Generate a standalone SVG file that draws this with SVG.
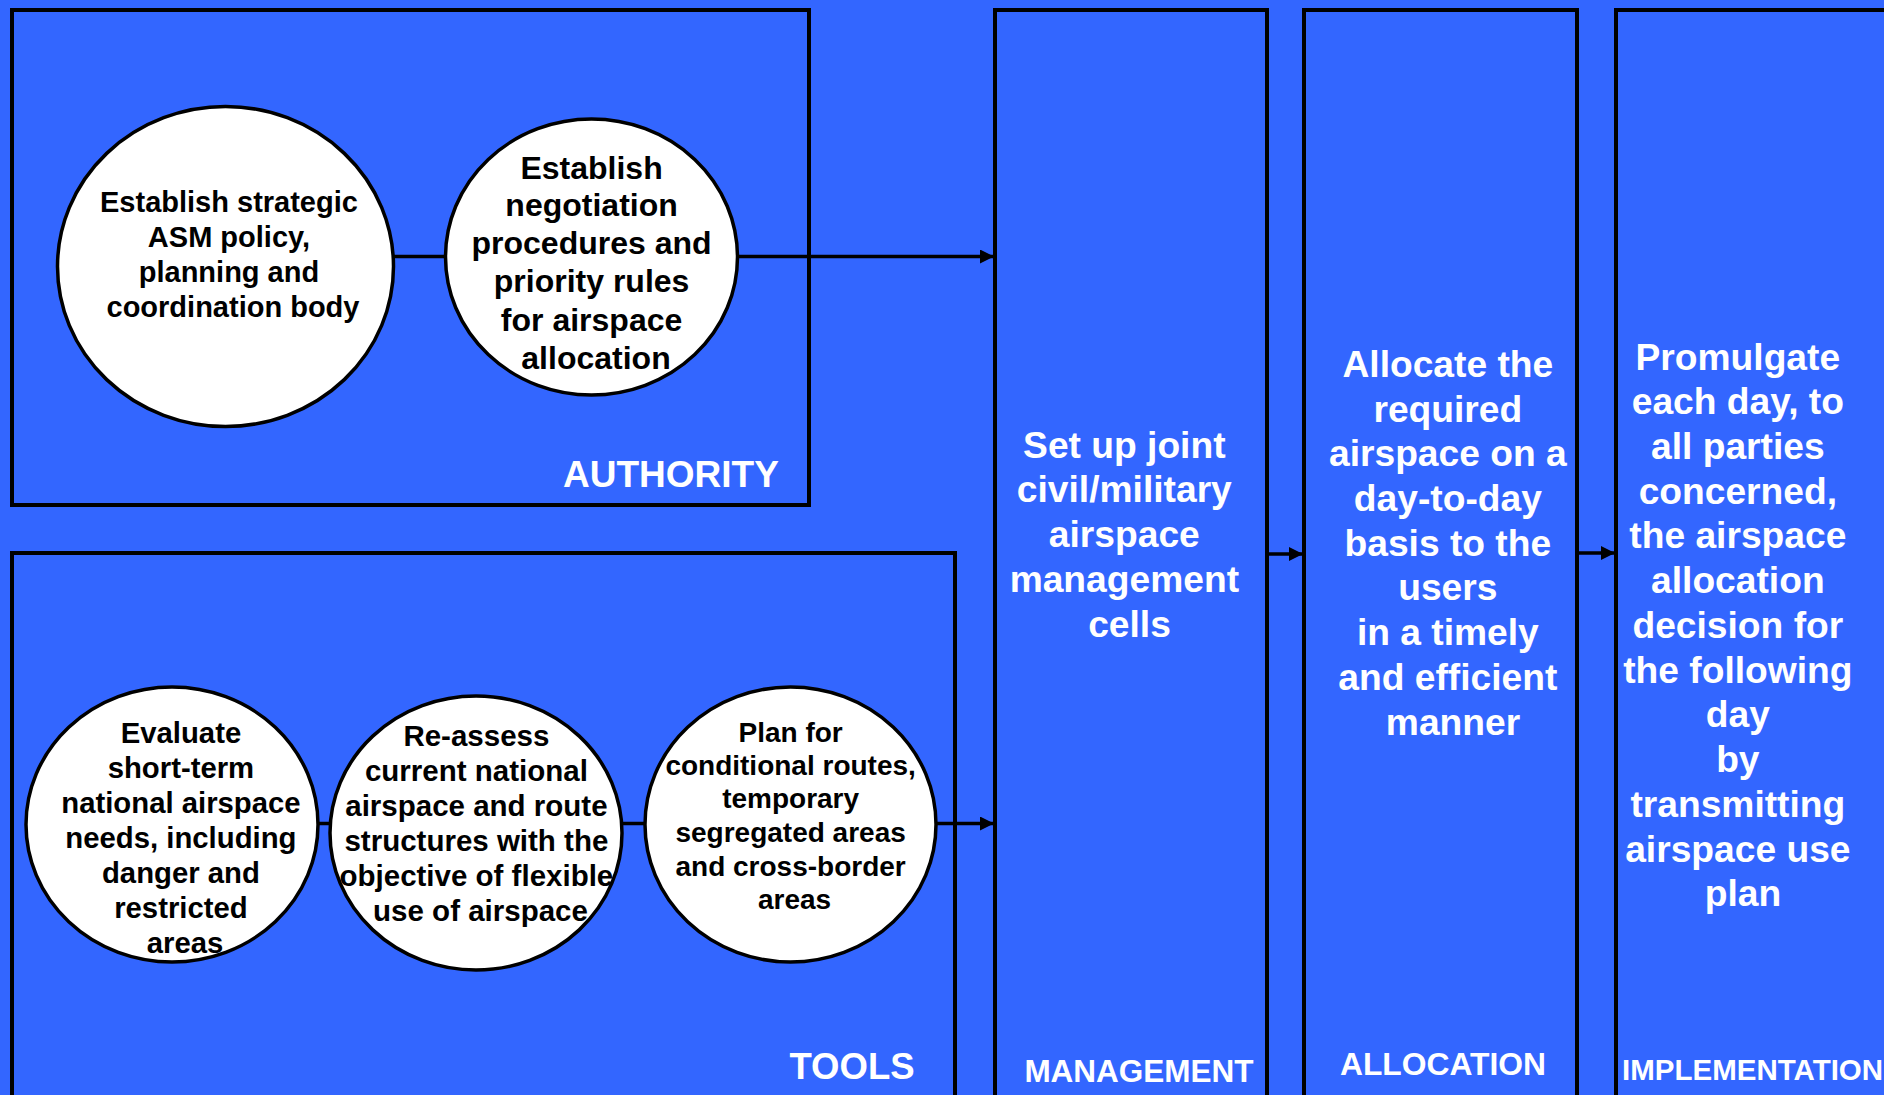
<svg xmlns="http://www.w3.org/2000/svg" width="1884" height="1095" viewBox="0 0 1884 1095">
  <style>
    .panel { fill: none; stroke: #000; stroke-width: 4; }
    .bubble { fill: #fff; stroke: #000; stroke-width: 3.5; }
    .link { stroke: #000; stroke-width: 3.5; fill: none; }
    .dark { font-family: "Liberation Sans", Arial, Helvetica, sans-serif; font-weight: bold; fill: #000; text-anchor: middle; }
    .light { font-family: "Liberation Sans", Arial, Helvetica, sans-serif; font-weight: bold; fill: #fff; text-anchor: middle; }
  </style>
  <defs>
    <marker id="arrow" viewBox="0 0 14 14" refX="14" refY="7" markerWidth="14" markerHeight="14" markerUnits="userSpaceOnUse" orient="auto">
      <path d="M0,0 L14,7 L0,14 z" fill="#000"/>
    </marker>
  </defs>

  <!-- background -->
  <rect x="0" y="0" width="1884" height="1095" fill="#3366FF"/>

  <!-- connectors -->
  <g id="connectors">
    <line class="link" x1="393" y1="256.5" x2="446" y2="256.5"/>
    <line class="link" x1="737" y1="256.5" x2="994" y2="256.5" marker-end="url(#arrow)"/>
    <line class="link" x1="317" y1="823.5" x2="330" y2="823.5"/>
    <line class="link" x1="622" y1="823.5" x2="645" y2="823.5"/>
    <line class="link" x1="936" y1="823.5" x2="994" y2="823.5" marker-end="url(#arrow)"/>
    <line class="link" x1="1267" y1="554" x2="1303" y2="554" marker-end="url(#arrow)"/>
    <line class="link" x1="1577" y1="553" x2="1615" y2="553" marker-end="url(#arrow)"/>
  </g>

  <!-- AUTHORITY panel -->
  <g id="authority">
    <rect class="panel" x="12" y="10" width="797" height="495"/>
    <text class="light" x="671" y="487" font-size="37">AUTHORITY</text>
  </g>

  <!-- TOOLS panel -->
  <g id="tools">
    <rect class="panel" x="12" y="553" width="943" height="560"/>
    <text class="light" x="852" y="1079" font-size="36.5">TOOLS</text>
  </g>

  <!-- MANAGEMENT column -->
  <g id="management">
    <rect class="panel" x="995" y="10" width="272" height="1100"/>
    <text class="light" font-size="37.2">
      <tspan x="1129.5" y="458">Set up joint</tspan>
      <tspan x="1129.5" y="502">civil/military</tspan>
      <tspan x="1129.5" y="547">airspace</tspan>
      <tspan x="1129.5" y="592">management</tspan>
      <tspan x="1129.5" y="637">cells</tspan>
    </text>
    <text class="light" x="1139" y="1082" font-size="31.5">MANAGEMENT</text>
  </g>

  <!-- ALLOCATION column -->
  <g id="allocation">
    <rect class="panel" x="1304" y="10" width="273" height="1100"/>
    <text class="light" font-size="37.2">
      <tspan x="1453" y="377">Allocate the</tspan>
      <tspan x="1453" y="422">required</tspan>
      <tspan x="1453" y="466">airspace on a</tspan>
      <tspan x="1453" y="511">day-to-day</tspan>
      <tspan x="1453" y="556">basis to the</tspan>
      <tspan x="1453" y="600">users</tspan>
      <tspan x="1453" y="645">in a timely</tspan>
      <tspan x="1453" y="690">and efficient</tspan>
      <tspan x="1453" y="735">manner</tspan>
    </text>
    <text class="light" x="1443" y="1075" font-size="31.8">ALLOCATION</text>
  </g>

  <!-- IMPLEMENTATION column -->
  <g id="implementation">
    <rect class="panel" x="1616" y="10" width="300" height="1100"/>
    <text class="light" font-size="37.2">
      <tspan x="1743" y="370">Promulgate</tspan>
      <tspan x="1743" y="414">each day, to</tspan>
      <tspan x="1743" y="459">all parties</tspan>
      <tspan x="1743" y="504">concerned,</tspan>
      <tspan x="1743" y="548">the airspace</tspan>
      <tspan x="1743" y="593">allocation</tspan>
      <tspan x="1743" y="638">decision for</tspan>
      <tspan x="1743" y="683">the following</tspan>
      <tspan x="1743" y="727">day</tspan>
      <tspan x="1743" y="772">by</tspan>
      <tspan x="1743" y="817">transmitting</tspan>
      <tspan x="1743" y="862">airspace use</tspan>
      <tspan x="1743" y="906">plan</tspan>
    </text>
    <text class="light" x="1622" y="1080" font-size="29.5" style="text-anchor:start">IMPLEMENTATION</text>
  </g>

  <!-- authority bubbles -->
  <g id="strategic-policy">
    <ellipse class="bubble" cx="225.5" cy="266.5" rx="168" ry="160"/>
    <text class="dark" font-size="29">
      <tspan x="233" y="212">Establish strategic</tspan>
      <tspan x="233" y="247">ASM policy,</tspan>
      <tspan x="233" y="282">planning and</tspan>
      <tspan x="233" y="317">coordination body</tspan>
    </text>
  </g>
  <g id="negotiation-procedures">
    <ellipse class="bubble" cx="591.5" cy="257" rx="146" ry="138"/>
    <text class="dark" font-size="32">
      <tspan x="596" y="179">Establish</tspan>
      <tspan x="596" y="216">negotiation</tspan>
      <tspan x="596" y="254">procedures and</tspan>
      <tspan x="596" y="292">priority rules</tspan>
      <tspan x="596" y="331">for airspace</tspan>
      <tspan x="596" y="369">allocation</tspan>
    </text>
  </g>

  <!-- tools bubbles -->
  <g id="evaluate-needs">
    <ellipse class="bubble" cx="172" cy="824.5" rx="146" ry="137.5"/>
    <text class="dark" font-size="29.3">
      <tspan x="185" y="743">Evaluate</tspan>
      <tspan x="185" y="778">short-term</tspan>
      <tspan x="185" y="813">national airspace</tspan>
      <tspan x="185" y="848">needs, including</tspan>
      <tspan x="185" y="883">danger and</tspan>
      <tspan x="185" y="918">restricted</tspan>
      <tspan x="185" y="953">areas</tspan>
    </text>
  </g>
  <g id="reassess-structures">
    <ellipse class="bubble" cx="476" cy="833" rx="146" ry="137"/>
    <text class="dark" font-size="29.5">
      <tspan x="480.5" y="746">Re-assess</tspan>
      <tspan x="480.5" y="781">current national</tspan>
      <tspan x="480.5" y="816">airspace and route</tspan>
      <tspan x="480.5" y="851">structures with the</tspan>
      <tspan x="480.5" y="886">objective of flexible</tspan>
      <tspan x="480.5" y="921">use of airspace</tspan>
    </text>
  </g>
  <g id="plan-routes">
    <ellipse class="bubble" cx="790.5" cy="824.5" rx="145.5" ry="137.5"/>
    <text class="dark" font-size="28">
      <tspan x="794.5" y="742">Plan for</tspan>
      <tspan x="794.5" y="775">conditional routes,</tspan>
      <tspan x="794.5" y="808">temporary</tspan>
      <tspan x="794.5" y="842">segregated areas</tspan>
      <tspan x="794.5" y="876">and cross-border</tspan>
      <tspan x="794.5" y="909">areas</tspan>
    </text>
  </g>
</svg>
